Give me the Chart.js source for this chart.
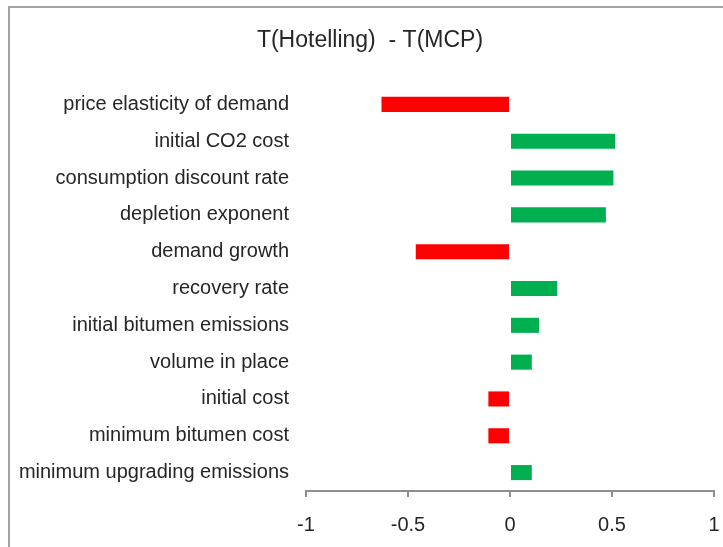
<!DOCTYPE html>
<html>
<head>
<meta charset="utf-8">
<script src="https://cdn.jsdelivr.net/npm/chart.js@4/dist/chart.umd.min.js"></script>
<style>
  html, body { margin: 0; padding: 0; background: #fff; overflow: hidden; }
  #wrap { position: relative; width: 723px; height: 547px; }
  #frame {
    position: absolute; left: 8px; top: 6px; width: 900px; height: 900px;
    border-left: 2px solid #a3a3a3; border-top: 2px solid #a3a3a3;
    pointer-events: none;
  }
  canvas { position: absolute; left: 0; top: 0; }
</style>
</head>
<body>
<div id="wrap">
  <canvas id="chart" width="723" height="547"></canvas>
  <div id="frame"></div>
</div>
<script>
const titleText = 'T(Hotelling)  - T(MCP)';
const categories = [
  'price elasticity of demand',
  'initial CO2 cost',
  'consumption discount rate',
  'depletion exponent',
  'demand growth',
  'recovery rate',
  'initial bitumen emissions',
  'volume in place',
  'initial cost',
  'minimum bitumen cost',
  'minimum upgrading emissions'
];
const diffValues = [-0.63, 0.515, 0.507, 0.47, -0.462, 0.232, 0.142, 0.107, -0.106, -0.106, 0.107];
const xTicks = [-1, -0.5, 0, 0.5, 1];

const RED = '#ff0000';
const GREEN = '#00b050';
const axisGray = '#8e8e8e';
const textColor = '#262626';
const fontFamily = '"Liberation Sans", Arial, sans-serif';

// title drawn centred over the plot the way the original sits
const titlePlugin = {
  id: 'offsetTitle',
  afterDraw(chart) {
    const ctx = chart.ctx;
    ctx.save();
    ctx.font = '23px ' + fontFamily;
    ctx.fillStyle = textColor;
    ctx.textAlign = 'center';
    ctx.textBaseline = 'middle';
    ctx.fillText(titleText, 370, 41);
    ctx.restore();
  }
};

new Chart(document.getElementById('chart'), {
  type: 'bar',
  data: {
    labels: categories,
    datasets: [{
      data: diffValues,
      backgroundColor: diffValues.map(v => v < 0 ? RED : GREEN),
      borderWidth: 0,
      inflateAmount: 0,
      barPercentage: 0.41,
      categoryPercentage: 1
    }]
  },
  options: {
    indexAxis: 'y',
    responsive: false,
    animation: false,
    layout: { padding: { left: 4, right: 9, top: 86, bottom: 0 } },
    plugins: {
      legend: { display: false },
      tooltip: { enabled: false },
      title: { display: false }
    },
    scales: {
      x: {
        type: 'linear',
        min: -1,
        max: 1,
        afterBuildTicks(scale) {
          scale.ticks = xTicks.map(v => ({ value: v }));
        },
        afterFit(scale) {
          scale.height = 56;
          scale.paddingLeft = 0;
          scale.paddingRight = 0;
        },
        grid: {
          display: true,
          drawOnChartArea: false,
          drawTicks: true,
          tickLength: 6,
          color: axisGray,
          lineWidth: 2
        },
        border: { display: true, color: axisGray, width: 2 },
        ticks: {
          color: textColor,
          padding: 16,
          maxRotation: 0,
          font: { family: fontFamily, size: 20 },
          callback: v => String(v)
        }
      },
      y: {
        afterFit(scale) { scale.width = 302; },
        grid: { display: false, drawTicks: false, tickLength: 0 },
        border: { display: false },
        ticks: {
          color: textColor,
          padding: 17,
          font: { family: fontFamily, size: 20 }
        }
      }
    }
  },
  plugins: [titlePlugin]
});
</script>
</body>
</html>
